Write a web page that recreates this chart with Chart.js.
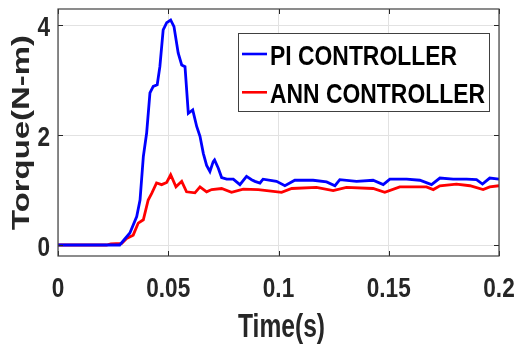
<!DOCTYPE html>
<html><head><meta charset="utf-8">
<script src="https://cdn.jsdelivr.net/npm/chart.js@4.4.1/dist/chart.umd.min.js"></script>
<style>html,body{margin:0;padding:0;background:#fff}#wrap{width:516px;height:344px}</style>
</head><body><div id="wrap"><canvas id="c" width="516" height="344"></canvas></div>
<script>
const xTicks = [0, 0.05, 0.1, 0.15, 0.2];
const yTicks = [0, 2, 4];
const xTitle = 'Time(s)';
const yTitle = 'Torque(N-m)';
const seriesNames = ["PI CONTROLLER", "ANN CONTROLLER"];
const piTime = [0,0.028,0.0326,0.0357,0.0372,0.0387,0.0402,0.0417,0.0432,0.045,0.0462,0.0477,0.0493,0.0511,0.0526,0.0545,0.0561,0.0576,0.0591,0.0611,0.0629,0.0644,0.0659,0.0674,0.0689,0.0704,0.0710,0.0727,0.0742,0.0765,0.0795,0.0825,0.0855,0.0878,0.0893,0.0916,0.093,0.0991,0.1029,0.1074,0.1157,0.1218,0.1256,0.1278,0.1354,0.1429,0.1475,0.1505,0.1581,0.1641,0.1694,0.1732,0.1792,0.1853,0.1898,0.1925,0.1958,0.2];
const piTorque = [0,0,0.22,0.52,0.82,1.61,2.04,2.77,2.89,2.92,3.25,3.92,4.05,4.1,3.98,3.5,3.28,3.25,2.40,2.46,2.16,1.98,1.67,1.45,1.34,1.52,1.55,1.40,1.23,1.2,1.2,1.1,1.25,1.19,1.16,1.13,1.2,1.16,1.08,1.18,1.18,1.15,1.08,1.19,1.16,1.18,1.1,1.2,1.2,1.18,1.1,1.22,1.2,1.2,1.19,1.11,1.22,1.2];
const annTime = [0,0.022,0.024,0.0289,0.0311,0.0341,0.0364,0.0387,0.0409,0.0425,0.0447,0.047,0.0493,0.0511,0.0535,0.0561,0.0583,0.0621,0.0644,0.0674,0.0697,0.0742,0.0787,0.0840,0.0908,0.1014,0.106,0.1172,0.1248,0.1308,0.1429,0.1482,0.155,0.1671,0.1702,0.1732,0.1807,0.1868,0.1928,0.1958,0.2];
const annTorque = [0,0,0.02,0.03,0.12,0.18,0.40,0.46,0.82,0.94,1.13,1.1,1.14,1.28,1.06,1.16,0.97,0.95,1.06,0.97,1.01,1.03,0.96,1.02,1.01,0.96,1.03,1.05,0.99,1.05,1.03,0.96,1.06,1.06,1.01,1.08,1.11,1.08,1.01,1.06,1.08];

const FAM = "'Liberation Sans',Arial,sans-serif";
const txt = '#262626';
const toPts = (xs, ys) => xs.map((x, i) => ({x, y: ys[i]}));
const fmt = v => String(+v.toFixed(2));

// draw text horizontally squeezed/stretched so its advance width equals targetW
function fitText(ctx, str, size, sx, x, y, align) {
  ctx.save();
  ctx.font = 'bold ' + size + 'px ' + FAM;
  ctx.textAlign = align; ctx.textBaseline = 'alphabetic';
  ctx.translate(x, y); ctx.scale(sx, 1);
  ctx.fillText(str, 0, 0);
  ctx.restore();
}
function widthOf(ctx, str, size) {
  ctx.save(); ctx.font = 'bold ' + size + 'px ' + FAM;
  const w = ctx.measureText(str).width; ctx.restore(); return w;
}

const deco = {
  id: 'deco',
  afterDraw(chart) {
    const {ctx, chartArea: a, scales: {x, y}} = chart;
    ctx.save();
    // inner ticks
    ctx.strokeStyle = '#262626'; ctx.lineWidth = 1;
    ctx.beginPath();
    x.ticks.forEach(t => { const px = Math.round(x.getPixelForValue(t.value)) + 0.5;
      ctx.moveTo(px, a.bottom); ctx.lineTo(px, a.bottom - 5);
      ctx.moveTo(px, a.top); ctx.lineTo(px, a.top + 5); });
    y.ticks.forEach(t => { const py = Math.round(y.getPixelForValue(t.value)) + 0.5;
      ctx.moveTo(a.left, py); ctx.lineTo(a.left + 5, py);
      ctx.moveTo(a.right, py); ctx.lineTo(a.right - 5, py); });
    ctx.stroke();
    // frame
    ctx.strokeStyle = '#404040'; ctx.lineWidth = 1.2;
    ctx.strokeRect(a.left, a.top, a.right - a.left, a.bottom - a.top);
    ctx.restore();

    // tick labels (condensed look)
    ctx.save();
    ctx.fillStyle = txt;
    const tsz = 27;
    const tsx = 44 / widthOf(ctx, '0.05', tsz);
    x.ticks.forEach(t => fitText(ctx, fmt(t.value), tsz, tsx, x.getPixelForValue(t.value), a.bottom + 41, 'center'));
    y.ticks.forEach(t => fitText(ctx, fmt(t.value), tsz, tsx, a.left - 8, y.getPixelForValue(t.value) + 11, 'right'));
    // x title
    const xsz = 33;
    fitText(ctx, xTitle, xsz, 87 / widthOf(ctx, xTitle, xsz), (a.left + a.right) / 2 + 3, 337, 'center');
    // y title (rotated)
    const ysz = 24;
    const ysx = 195 / widthOf(ctx, yTitle, ysz);
    ctx.save();
    ctx.font = 'bold ' + ysz + 'px ' + FAM;
    ctx.textAlign = 'center'; ctx.textBaseline = 'alphabetic';
    ctx.translate(29, (a.top + a.bottom) / 2);
    ctx.rotate(-Math.PI / 2);
    ctx.scale(ysx, 1);
    ctx.fillText(yTitle, 0, 0);
    ctx.restore();
    ctx.restore();

    // legend
    ctx.save();
    const bx = 238.5, by = 33.5, bw = 251, bh = 78;
    ctx.fillStyle = '#fff'; ctx.fillRect(bx, by, bw, bh);
    ctx.strokeStyle = '#404040'; ctx.lineWidth = 1;
    ctx.strokeRect(bx, by, bw, bh);
    const lsz = 27;
    const lsx = 187 / widthOf(ctx, chart.data.datasets[0].label, lsz);
    chart.data.datasets.forEach((ds, i) => {
      const base = 65 + i * 38.3;
      ctx.strokeStyle = ds.borderColor; ctx.lineWidth = 2.6;
      ctx.beginPath(); ctx.moveTo(242, base - 11); ctx.lineTo(267, base - 11); ctx.stroke();
      ctx.fillStyle = '#000';
      fitText(ctx, ds.label, lsz, lsx, 270, base, 'left');
    });
    ctx.restore();
  }
};

new Chart(document.getElementById('c'), {
  type: 'line',
  data: { datasets: [
    { label: seriesNames[0], data: toPts(piTime, piTorque), borderColor: '#0000ff', borderWidth: 2.8, pointRadius: 0, tension: 0, fill: false },
    { label: seriesNames[1], data: toPts(annTime, annTorque), borderColor: '#ff0000', borderWidth: 2.8, pointRadius: 0, tension: 0, fill: false }
  ]},
  options: {
    responsive: false, animation: false, devicePixelRatio: 1,
    layout: { padding: { left: 0, right: 17, top: 9, bottom: 0 } },
    plugins: { legend: { display: false }, tooltip: { enabled: false } },
    scales: {
      x: { type: 'linear', min: 0, max: 0.2,
        afterBuildTicks: s => { s.ticks = xTicks.map(v => ({value: v})); },
        afterFit: s => { s.height = 88; s.paddingLeft = 0; s.paddingRight = 0; },
        grid: { color: '#e2e2e2', drawTicks: false },
        border: { display: false },
        ticks: { display: false, callback: fmt },
        title: { display: false, text: xTitle }
      },
      y: { type: 'linear', min: -0.2, max: 4.3,
        afterBuildTicks: s => { s.ticks = yTicks.map(v => ({value: v})); },
        afterFit: s => { s.width = 58; s.paddingTop = 0; s.paddingBottom = 0; },
        grid: { color: '#e2e2e2', drawTicks: false },
        border: { display: false },
        ticks: { display: false, callback: fmt },
        title: { display: false, text: yTitle }
      }
    }
  },
  plugins: [deco]
});
</script></body></html>
